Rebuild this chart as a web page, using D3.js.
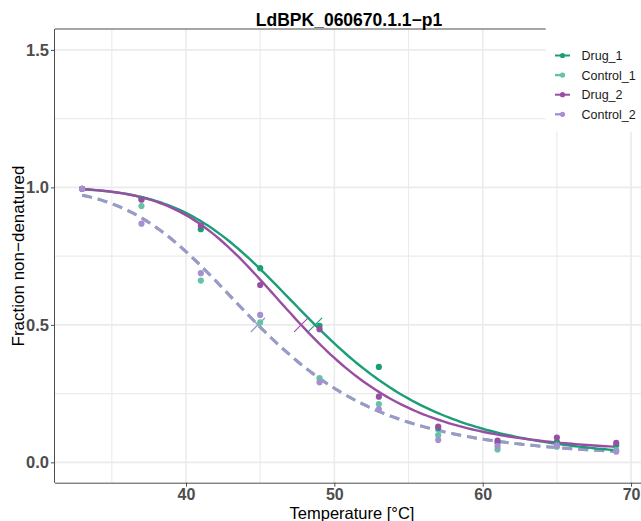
<!DOCTYPE html>
<html>
<head>
<meta charset="utf-8">
<script src="https://cdn.jsdelivr.net/npm/d3@7"></script>
<style>
  html, body { margin: 0; padding: 0; background: #ffffff; }
  svg { display: block; font-family: "Liberation Sans", Arial, sans-serif; }
</style>
</head>
<body>
<svg id="chart" width="641" height="521"></svg>
<script>
// ---------- data ----------
const chartTitle = "LdBPK_060670.1.1\u2212p1";
const xTitle = "Temperature [\u00B0C]";
const yTitle = "Fraction non\u2212denatured";

const seriesNames = ["Drug_1", "Control_1", "Drug_2", "Control_2"];
const seriesColors = ["#1b9e77", "#66c2a5", "#984ea3", "#a890d0"];
const seriesDashed = [false, true, false, true];

const temperatures = [33, 37, 41, 45, 49, 53, 57, 61, 65, 69];
const drug1 =    [0.995, 0.958, 0.848, 0.706, 0.496, 0.347, 0.125, 0.071, 0.075, 0.062];
const control1 = [0.995, 0.932, 0.661, 0.509, 0.306, 0.212, 0.099, 0.047, 0.057, 0.045];
const drug2 =    [0.995, 0.955, 0.861, 0.645, 0.484, 0.239, 0.130, 0.079, 0.090, 0.071];
const control2 = [0.995, 0.868, 0.688, 0.536, 0.291, 0.193, 0.081, 0.059, 0.062, 0.039];

// fitted melting-curve parameters: f(T) = pl + (1 - pl) / (1 + exp(-(a/T - b)))
const fitA = [510, 442, 545, 442];
const fitB = [10.472, 9.875, 11.473, 9.875];
const fitPlateau = [0, 0.01, 0.03, 0.01];
const meltPoints = [48.7, 44.85, 47.76, 44.85];

const xMajorTicks = [40, 50, 60, 70];
const xMinorTicks = [35, 45, 55, 65];
const yMajorTicks = [0, 0.5, 1.0, 1.5];
const yMinorTicks = [0.25, 0.75, 1.25];

// ---------- layout ----------
const svg = d3.select("#chart");
const panel = { left: 55, right: 641, top: 29, bottom: 482.7 };
const x = d3.scaleLinear().domain([31.17, 70.67]).range([panel.left, panel.right]);
const y = d3.scaleLinear().domain([-0.074, 1.576]).range([panel.bottom, panel.top]);

const seriesValues = [drug1, control1, drug2, control2];

// panel background
svg.append("rect").attr("x", panel.left).attr("y", panel.top)
  .attr("width", panel.right - panel.left).attr("height", panel.bottom - panel.top)
  .attr("fill", "#ffffff");

// grid
const grid = svg.append("g");
xMinorTicks.forEach(t => grid.append("line")
  .attr("x1", x(t)).attr("x2", x(t)).attr("y1", panel.top).attr("y2", panel.bottom)
  .attr("stroke", "#ebebeb").attr("stroke-width", 1.1));
yMinorTicks.forEach(t => grid.append("line")
  .attr("x1", panel.left).attr("x2", panel.right).attr("y1", y(t)).attr("y2", y(t))
  .attr("stroke", "#ebebeb").attr("stroke-width", 1.1));
xMajorTicks.forEach(t => grid.append("line")
  .attr("x1", x(t)).attr("x2", x(t)).attr("y1", panel.top).attr("y2", panel.bottom)
  .attr("stroke", "#ebebeb").attr("stroke-width", 1.6));
yMajorTicks.forEach(t => grid.append("line")
  .attr("x1", panel.left).attr("x2", panel.right).attr("y1", y(t)).attr("y2", y(t))
  .attr("stroke", "#ebebeb").attr("stroke-width", 1.6));

// curves
const curveTemps = d3.range(33, 69.001, 0.25);
const line = d3.line().x(d => x(d[0])).y(d => y(d[1]));
const curves = svg.append("g").attr("fill", "none");
[1, 3, 0, 2].forEach(i => {
  const pts = curveTemps.map(T => [T, fitPlateau[i] + (1 - fitPlateau[i]) / (1 + Math.exp(-(fitA[i] / T - fitB[i])))]);
  const p = curves.append("path").attr("d", line(pts))
    .attr("stroke", seriesColors[i])
    .attr("stroke-width", seriesDashed[i] ? 3 : 2.4)
    .attr("stroke-linecap", "butt");
  if (seriesDashed[i]) {
    p.attr("stroke-dasharray", "10,6");
    if (i === 3) p.attr("stroke-opacity", 0.85);
  }
});

// melting point markers
const marks = svg.append("g");
[1, 3, 0, 2].forEach(i => {
  const cx = x(meltPoints[i]), cy = y(0.5), s = 7;
  marks.append("path")
    .attr("d", `M${cx - s},${cy - s}L${cx + s},${cy + s}M${cx - s},${cy + s}L${cx + s},${cy - s}`)
    .attr("stroke", seriesColors[i]).attr("stroke-width", 1.1).attr("fill", "none");
});

// points
const pointsG = svg.append("g");
[0, 1, 2, 3].forEach(i => {
  pointsG.selectAll(null).data(temperatures.map((t, k) => [t, seriesValues[i][k]]))
    .join("circle")
    .attr("cx", d => x(d[0])).attr("cy", d => y(d[1])).attr("r", 3.1)
    .attr("fill", seriesColors[i]);
});

// panel border (top) and axes
svg.append("line").attr("x1", panel.left).attr("x2", panel.right)
  .attr("y1", panel.top).attr("y2", panel.top).attr("stroke", "#4d4d4d").attr("stroke-width", 1);

const xAxis = d3.axisBottom(x).tickValues(xMajorTicks).tickSize(4).tickPadding(2).tickFormat(d3.format("d"));
const gx = svg.append("g").attr("transform", `translate(0,${panel.bottom})`).call(xAxis);
gx.select(".domain").attr("d", `M${panel.left},0.5H${panel.right}`).attr("stroke", "#4d4d4d");
gx.selectAll(".tick line").attr("stroke", "#4d4d4d");
gx.selectAll(".tick text").attr("fill", "#4d4d4d").attr("font-size", "16px")
  .attr("font-weight", "bold").attr("font-family", "Liberation Sans, Arial, sans-serif");

const yAxis = d3.axisLeft(y).tickValues(yMajorTicks).tickSize(4).tickPadding(2).tickFormat(d3.format(".1f"));
const gy = svg.append("g").attr("transform", `translate(${panel.left},0)`).call(yAxis);
gy.select(".domain").attr("d", `M-0.5,${panel.top}V${panel.bottom}`).attr("stroke", "#4d4d4d");
gy.selectAll(".tick line").attr("stroke", "#4d4d4d");
gy.selectAll(".tick text").attr("fill", "#4d4d4d").attr("font-size", "16.5px")
  .attr("font-weight", "bold").attr("font-family", "Liberation Sans, Arial, sans-serif");

// legend
const legend = svg.append("g");
legend.append("rect").attr("x", 545.7).attr("y", panel.top - 1).attr("width", 100).attr("height", 131.7 - panel.top + 1)
  .attr("fill", "#ffffff");
seriesNames.forEach((name, i) => {
  const ly = 55.5 + i * 19.6;
  const l = legend.append("line").attr("x1", 555).attr("x2", 570).attr("y1", ly).attr("y2", ly)
    .attr("stroke", seriesColors[i]).attr("stroke-width", seriesDashed[i] ? 2.4 : 2);
  if (seriesDashed[i]) l.attr("stroke-dasharray", "8,7");
  legend.append("circle").attr("cx", 562.5).attr("cy", ly).attr("r", 2.6).attr("fill", seriesColors[i]);
  legend.append("text").attr("x", 581.5).attr("y", ly + 4.5).text(name)
    .attr("font-size", "12.5px").attr("fill", "#1a1a1a");
});

// titles
svg.append("text").attr("x", 349).attr("y", 26).attr("text-anchor", "middle")
  .attr("font-size", "17.5px").attr("font-weight", "bold").attr("fill", "#000000").text(chartTitle);
svg.append("text").attr("x", 352).attr("y", 518.5).attr("text-anchor", "middle")
  .attr("font-size", "16.5px").attr("fill", "#000000").text(xTitle);
svg.append("text").attr("transform", `translate(24,256) rotate(-90)`).attr("text-anchor", "middle")
  .attr("font-size", "17px").attr("fill", "#000000").text(yTitle);
</script>
</body>
</html>
